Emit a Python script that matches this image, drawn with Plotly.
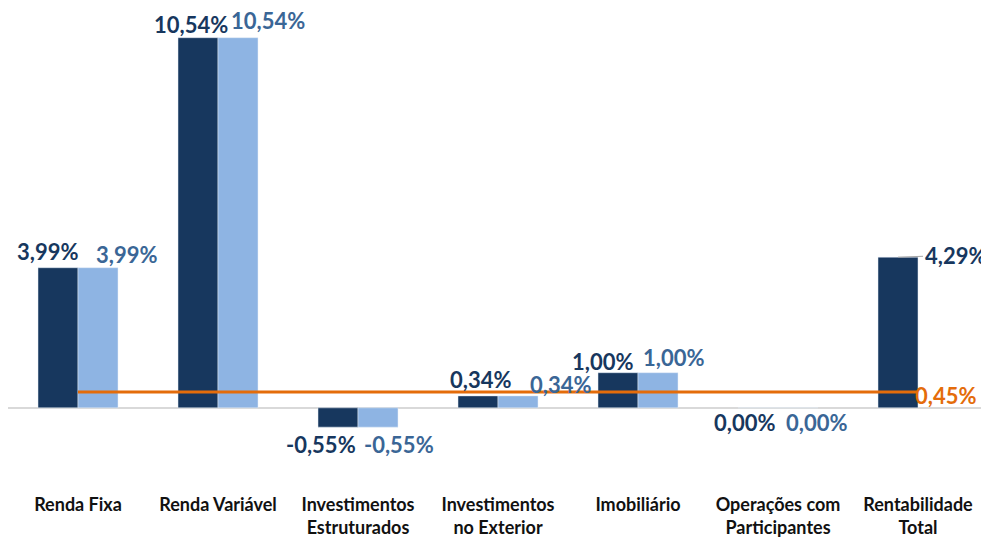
import plotly.graph_objects as go

categories = ["Renda Fixa", "Renda Variável", "Investimentos<br>Estruturados",
              "Investimentos<br>no Exterior", "Imobiliário",
              "Operações com<br>Participantes", "Rentabilidade<br>Total"]
series_dark = [3.99, 10.54, -0.55, 0.34, 1.00, 0.00, 4.29]
series_light = [3.99, 10.54, -0.55, 0.34, 1.00, 0.00, None]
benchmark = [0.45] * 7

DARK = "#17375E"
LIGHT = "#8EB4E3"
LIGHT_TXT = "#3A6696"
ORANGE = "#E46C0A"
FONT = "Lato"

def fmt(v):
    return f"{v:.2f}%".replace(".", ",")

fig = go.Figure()
fig.add_trace(go.Bar(x=categories, y=series_dark, marker_color=DARK, name="A"))
fig.add_trace(go.Bar(x=categories, y=series_light, marker_color=LIGHT, name="B"))
fig.add_trace(go.Scatter(x=categories, y=benchmark, mode="lines",
                         line=dict(color=ORANGE, width=3), name="C"))

# label offsets (pixels) relative to category centre / bar end
dark_shift = [(-31, 16), (-27, 13), (-37, -17), (-18, 16), (-36, 11), (-34, -15)]
light_shift = [(48, 13), (50, 17), (41, -17), (62, 11), (35, 15), (38, -15)]

LBL = dict(family=FONT, size=22, weight="bold")

ann = []
for i, (c, v) in enumerate(zip(categories[:6], series_dark[:6])):
    dx, dy = dark_shift[i]
    ann.append(dict(x=c, y=v, text=fmt(v), showarrow=False, xshift=dx, yshift=dy,
                    font=dict(LBL, color=DARK)))
for i, (c, v) in enumerate(zip(categories[:6], series_light[:6])):
    dx, dy = light_shift[i]
    ann.append(dict(x=c, y=v, text=fmt(v), showarrow=False, xshift=dx, yshift=dy,
                    font=dict(LBL, color=LIGHT_TXT)))
# total with leader line
ann.append(dict(x=categories[6], y=series_dark[6], text=fmt(series_dark[6]),
                showarrow=True, arrowhead=0, arrowwidth=1, arrowcolor="#A6A6A6",
                ax=57, ay=-2, xshift=-20,
                font=dict(LBL, color=DARK)))
# benchmark label
ann.append(dict(x=categories[6], y=benchmark[6], text=fmt(benchmark[6]),
                showarrow=False, xshift=27, yshift=-3,
                font=dict(LBL, color=ORANGE)))

fig.update_layout(
    width=989, height=539,
    margin=dict(l=0, r=9, t=3, b=57),
    barmode="group", bargap=0.4286, bargroupgap=0,
    showlegend=False,
    plot_bgcolor="white", paper_bgcolor="white",
    annotations=ann,
    font=dict(family=FONT),
)
fig.update_xaxes(showgrid=False, showline=False, ticks="",
                 tickfont=dict(family=FONT, size=18, color="#111111", weight="bold"),
                 ticklabelstandoff=2,
                 range=[-0.5, 6.5])
fig.update_yaxes(showgrid=False, showticklabels=False, zeroline=True,
                 zerolinecolor="#D9D9D9", zerolinewidth=2, range=[-2.34, 11.3])

fig.write_html("out.html")
